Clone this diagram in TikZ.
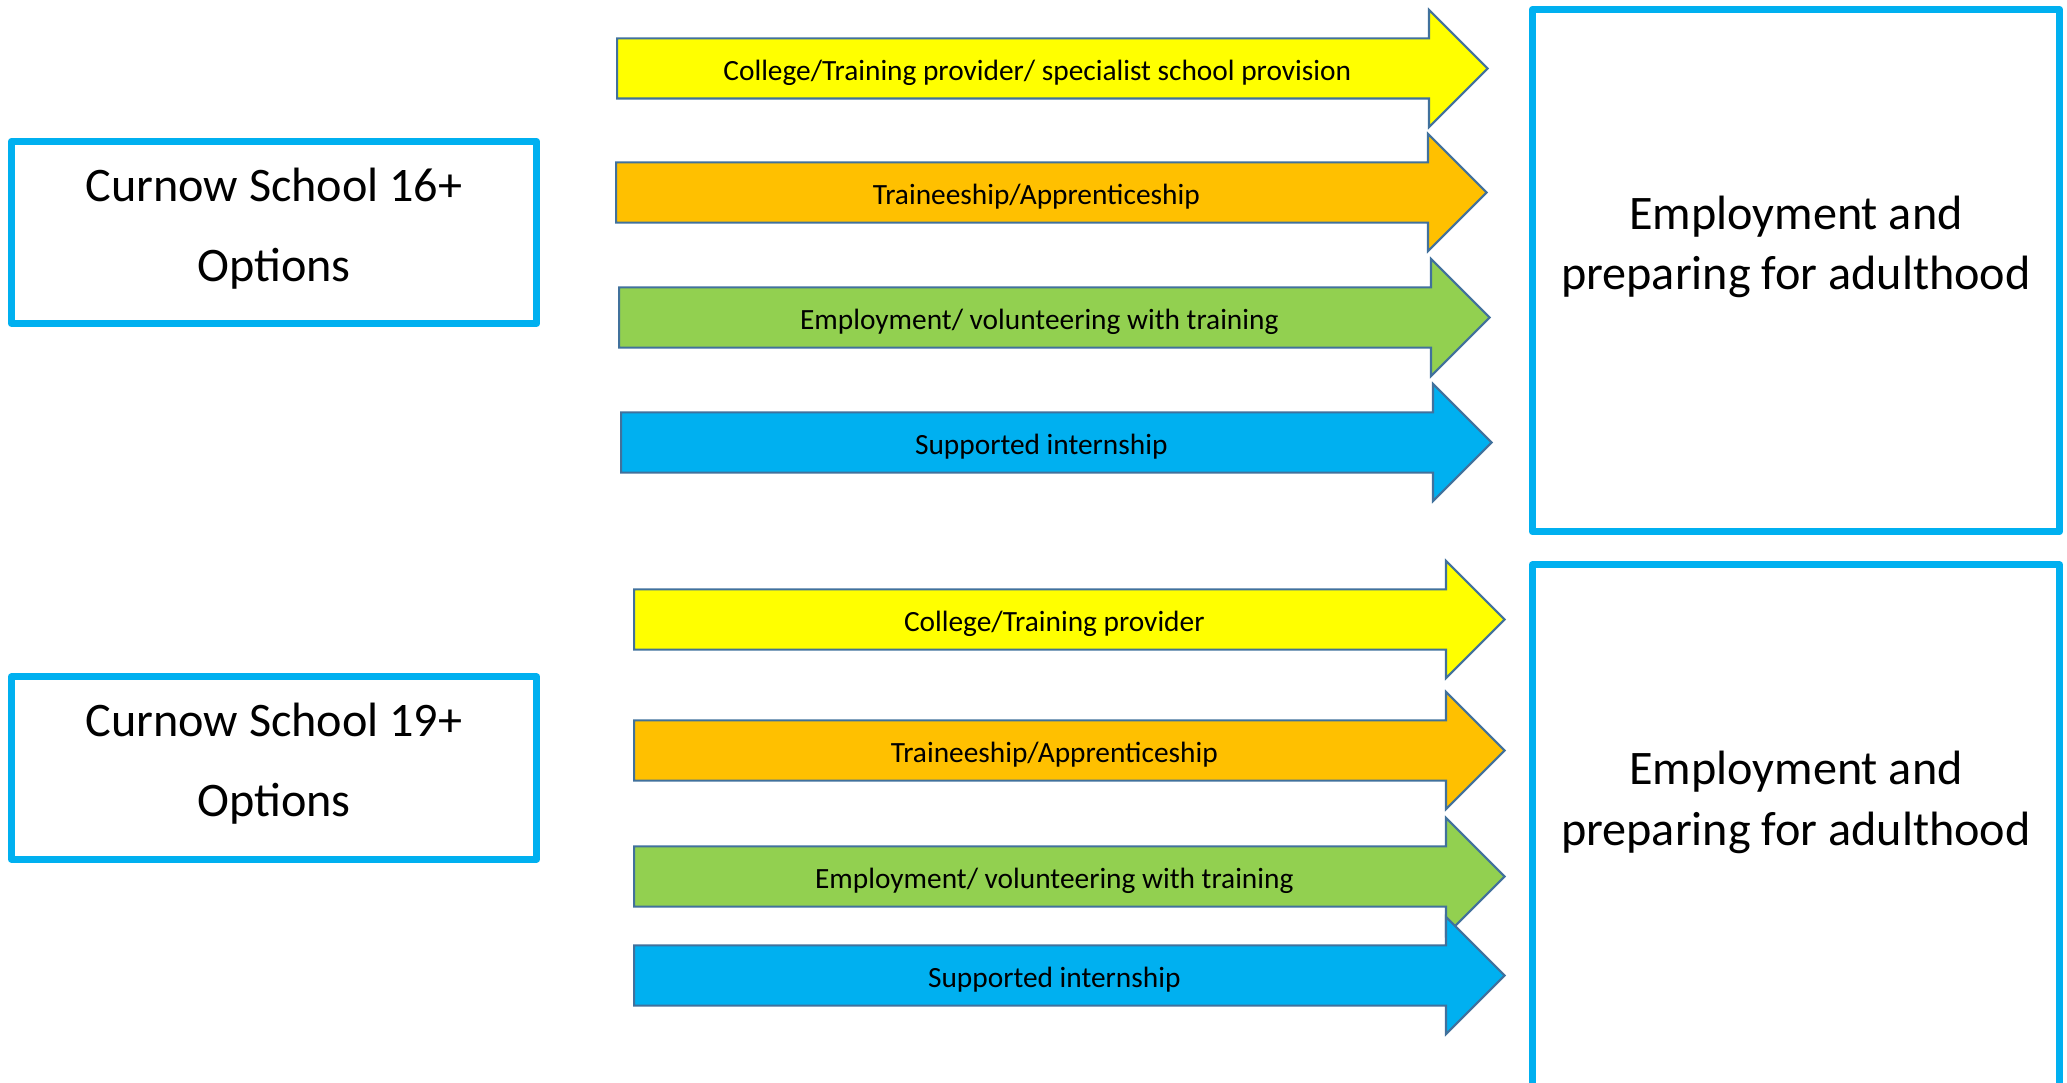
\documentclass[tikz,border=0pt]{standalone}
\usepackage{fontspec}
\setmainfont{Carlito}
\usetikzlibrary{shapes.arrows,positioning}

\definecolor{boxblue}{HTML}{00B0F0}
\definecolor{arrowline}{HTML}{41719C}
\definecolor{optyellow}{HTML}{FFFF00}
\definecolor{optorange}{HTML}{FFC000}
\definecolor{optgreen}{HTML}{92D050}
\definecolor{optblue}{HTML}{00B0F0}

\begin{document}
\begin{tikzpicture}[x=0.01cm, y=-0.01cm,
        school/.style={draw=boxblue, line width=2pt, line join=round,
          minimum width=5.25cm, minimum height=1.82cm},
        schooltext/.style={align=center, font=\fontsize{13.7}{22.8}\selectfont},
        goal/.style={draw=boxblue, line width=2pt, line join=round,
          minimum width=5.27cm, minimum height=5.22cm},
        goaltext/.style={align=center, font=\fontsize{13.7}{17.1}\selectfont},
        option/.style={single arrow, draw=arrowline, line width=0.6pt,
          single arrow tip angle=90, single arrow head extend=0.285cm,
          minimum height=8.7cm, inner xsep=0pt, inner ysep=4.25pt,
          text height=7.5pt, text depth=0.5pt, anchor=tail,
          font=\fontsize{8.35}{10}\selectfont}]

      \clip (0,0) rectangle (2067,1083);

      % School boxes
      \node[school] (S16) at (274,232.5) {};
      \node[school] (S19) at (274,768) {};
      \node[schooltext] (L16) at ([yshift=1.2pt]S16.center) {Curnow School 16+\\Options};
      \node[schooltext] (L19) at ([yshift=1.2pt]S19.center) {Curnow School 19+\\Options};

      % Options after 16
      \node[option, fill=optyellow] (A1) at (616,68.5) {College/Training provider/ specialist school provision};
      \node[option, fill=optorange] (A2) at (615,192.5) {Traineeship/Apprenticeship};
      \node[option, fill=optgreen]  (A3) at (618,317.5) {Employment/ volunteering with training};
      \node[option, fill=optblue]   (A4) at (620,442.5) {Supported internship};

      % Options after 19
      \node[option, fill=optyellow] (B1) at (633,619.5) {College/Training provider};
      \node[option, fill=optorange] (B2) at (633,750.5) {Traineeship/Apprenticeship};
      \node[option, fill=optgreen]  (B3) at (633,876.5) {Employment/ volunteering with training};
      \node[option, fill=optblue]   (B4) at (633,975.5) {Supported internship};

      % Outcome boxes
      \node[goal] (G16) at (1796,270.5) {};
      \node[goal] (G19) at (1796,826) {};
      \node[goaltext, anchor=center] (T16) at ([yshift=-2.41cm]G16.north) {Employment and\\preparing for adulthood};
      \node[goaltext, anchor=center] (T19) at ([yshift=-2.41cm]G19.north) {Employment and\\preparing for adulthood};
    \end{tikzpicture}
\end{document}
